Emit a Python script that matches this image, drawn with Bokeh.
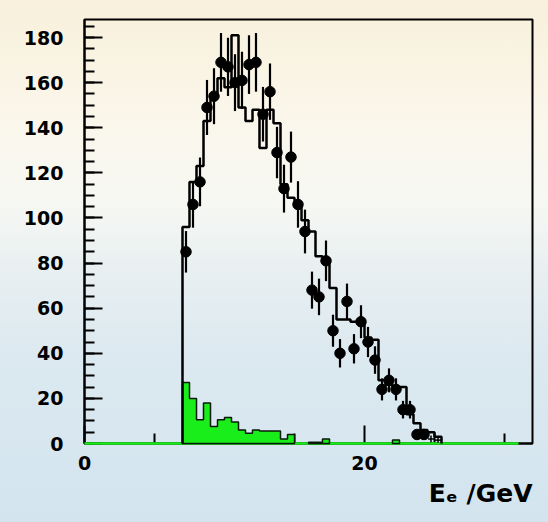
import numpy as np
from bokeh.plotting import figure
from bokeh.models import FixedTicker, Title, Range1d
from bokeh.embed import file_html
from bokeh.resources import INLINE

# ---------------- data ----------------
bin_lo = [7.0, 7.5, 8.0, 8.5, 9.0, 9.5, 10.0, 10.5, 11.0, 11.5, 12.0, 12.5,
          13.0, 13.5, 14.0, 14.5, 15.0, 15.5, 16.0, 16.5, 17.0, 17.5, 18.0,
          18.5, 19.0, 19.5, 20.0, 20.5, 21.0, 21.5, 22.0, 22.5, 23.0, 23.5,
          24.0, 24.5, 25.0]
bin_width = 0.5

mc_counts = [96, 116, 123, 143, 154, 162, 158, 181, 149, 143, 148, 131,
             148, 142, 115, 109, 105, 99, 94, 83, 82, 69, 55,
             55, 54, 54, 47, 46, 28, 26, 25, 25, 13, 9,
             6, 5, 3]

bg_counts = [27, 20, 10.5, 18, 7.5, 10.5, 11.5, 9.5, 6, 4.5, 6, 5.5,
             5.5, 5.5, 2, 4, 0, 0, 0.5, 0.5, 2, 0, 0,
             0, 0, 0, 0, 0, 0, 0, 1.5, 0, 0, 0,
             0, 0, 0]
bg_range = [0, 31]

data_x = [7.25, 7.75, 8.25, 8.75, 9.25, 9.75, 10.25, 10.75, 11.25, 11.75,
          12.25, 12.75, 13.25, 13.75, 14.25, 14.75, 15.25, 15.75, 16.25,
          16.75, 17.25, 17.75, 18.25, 18.75, 19.25, 19.75, 20.25, 20.75,
          21.25, 21.75, 22.25, 22.75, 23.25, 23.75, 24.25]
data_y = [85, 106, 116, 149, 154, 169, 167, 160, 161, 168,
          169, 146, 156, 129, 113, 127, 106, 94, 68,
          65, 81, 50, 40, 63, 42, 54, 45, 37,
          24, 28, 24, 15, 15, 4, 4]
data_err = [9.2, 10.3, 10.8, 12.2, 12.4, 13.0, 12.9, 12.6, 12.7, 13.0,
            13.0, 12.1, 12.5, 11.4, 10.6, 11.3, 10.3, 9.7, 8.2,
            8.1, 9.0, 7.1, 6.3, 7.9, 6.5, 7.3, 6.7, 6.1,
            4.9, 5.3, 4.9, 3.9, 3.9, 2.0, 2.0]
low_x = [24.75, 25.25]
low_y = [2, 1.5]
low_err = [1.5, 1.2]

x_ticks = [0, 20]
x_minor = [5, 10, 15, 25, 30]
y_ticks = [0, 20, 40, 60, 80, 100, 120, 140, 160, 180]
y_minor = [v for v in range(0, 190, 5)]
x_title = "E\u2091 /GeV"

# ---------------- helpers ----------------
def step_path(lo, vals, w):
    xs, ys = [lo[0]], [0]
    for l, v in zip(lo, vals):
        xs += [l, l + w]
        ys += [v, v]
    xs.append(lo[-1] + w)
    ys.append(0)
    return xs, ys

def runs_nonzero(lo, vals, w):
    pxs, pys = [], []
    cur_lo, cur_v = [], []
    for l, v in list(zip(lo, vals)) + [(None, 0)]:
        if v > 0:
            cur_lo.append(l); cur_v.append(v)
        elif cur_lo:
            a, b = step_path(cur_lo, cur_v, w)
            pxs.append(a); pys.append(b)
            cur_lo, cur_v = [], []
    return pxs, pys

GREEN = "#1aee1a"
FONT = "DejaVu Sans"

p = figure(width=548, height=522, output_backend="svg", toolbar_location=None,
           x_range=Range1d(0, 32), y_range=Range1d(0, 188),
           min_border_left=84, min_border_right=16, min_border_top=19,
           min_border_bottom=79)
p.background_fill_color = None
p.border_fill_color = None
p.styles = {"background": "linear-gradient(180deg, #f8f0db 0%, #faf6ea 22%, "
                          "#f7f8f3 38%, #e8eff1 52%, #dce9f0 68%, #d3e4ef 100%)"}
p.outline_line_color = "black"
p.outline_line_width = 2
p.xgrid.visible = False
p.ygrid.visible = False

for ax in (p.xaxis[0], p.yaxis[0]):
    ax.axis_line_width = 2
    ax.major_tick_line_width = 2
    ax.minor_tick_line_width = 2
    ax.major_tick_out = 0
    ax.minor_tick_out = 0
    ax.major_tick_in = 18
    ax.minor_tick_in = 10
    ax.major_label_text_font = FONT
    ax.major_label_text_font_style = "bold"
    ax.major_label_text_font_size = "19px"
    ax.major_label_text_color = "black"

p.xaxis.ticker = FixedTicker(ticks=x_ticks, minor_ticks=x_minor)
p.yaxis.ticker = FixedTicker(ticks=y_ticks, minor_ticks=y_minor)
p.xaxis.major_label_standoff = 12
p.yaxis.major_label_standoff = 21

p.add_layout(Title(text=x_title, align="right", text_font=FONT,
                   text_font_style="bold", text_font_size="25px",
                   text_color="black", standoff=8), "below")

# green background histogram
p.line(x=bg_range, y=[0, 0], line_color=GREEN, line_width=2.5, level="overlay")
gx, gy = runs_nonzero(bin_lo, bg_counts, bin_width)
p.patches(xs=gx, ys=gy, fill_color=GREEN, line_color="#0a1a0a", line_width=1.5,
          level="overlay")

# MC histogram
mx, my = step_path(bin_lo, mc_counts, bin_width)
p.line(x=mx, y=my, line_color="black", line_width=2.5, level="overlay")

# data points
dx = np.array(data_x); dy = np.array(data_y); de = np.array(data_err)
p.segment(x0=dx, y0=dy - de, x1=dx, y1=dy + de, line_color="black",
          line_width=2.2, level="overlay")
p.scatter(x=dx, y=dy, size=10.5, marker="circle", fill_color="black",
          line_color="black", level="overlay")
lx = np.array(low_x); ly = np.array(low_y); le = np.array(low_err)
p.segment(x0=lx, y0=ly - le, x1=lx, y1=ly + le, line_color="black",
          line_width=1.5, level="overlay")
p.scatter(x=lx, y=ly, size=6, marker="dash", line_color="black",
          line_width=1.5, level="overlay")

open("out.html", "w").write(file_html(p, INLINE))
